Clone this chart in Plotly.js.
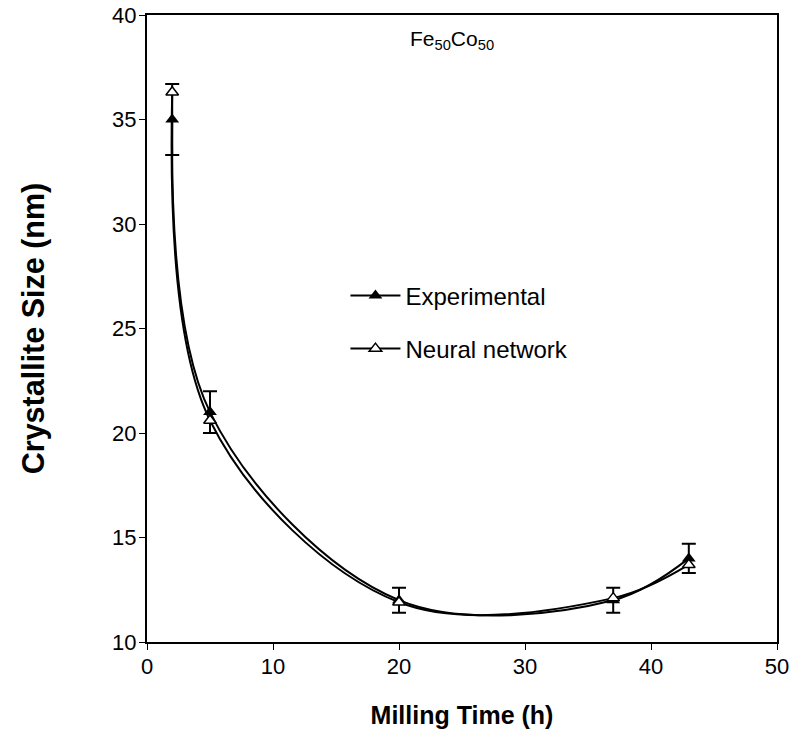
<!DOCTYPE html>
<html>
<head>
<meta charset="utf-8">
<script src="https://cdn.plot.ly/plotly-3.0.1.min.js"></script>
<style>body{margin:0;padding:0;background:#fff}#chart{width:797px;height:746px}</style>
</head>
<body>
<div id="chart"></div>
<script>
const millingTime = [2, 5, 20, 37, 43];
const experimental = [35.0, 21.0, 12.0, 12.0, 14.0];
const experimentalErr = [1.7, 1.0, 0.6, 0.6, 0.7];
const neuralNetwork = [36.3, 20.6, 11.9, 12.1, 13.7];

const font = 'Liberation Sans, Arial, sans-serif';

const traces = [
  {
    x: millingTime, y: experimental, name: 'Experimental', type: 'scatter', mode: 'lines+markers',
    legendgroup: 'a',
    line: {color: '#000', width: 2, shape: 'spline', smoothing: 1},
    marker: {symbol: 'triangle-up', size: 12, color: '#000'},
    error_y: {type: 'data', array: experimentalErr, visible: true, color: '#000', thickness: 2, width: 7}
  },
  {
    x: millingTime, y: neuralNetwork, name: 'Neural network', type: 'scatter', mode: 'lines+markers',
    legendgroup: 'b',
    line: {color: '#000', width: 2, shape: 'spline', smoothing: 1},
    marker: {symbol: 'triangle-up', size: 11, color: '#fff', line: {color: '#000', width: 1.5}}
  }
];

const layout = {
  width: 797, height: 746,
  margin: {l: 147, r: 20, t: 15, b: 104},
  paper_bgcolor: '#fff', plot_bgcolor: '#fff',
  font: {family: font, size: 22, color: '#000'},
  showlegend: true,
  legend: {x: 0.315, y: 0.588, xanchor: 'left', yanchor: 'top', bgcolor: 'rgba(0,0,0,0)',
           font: {family: font, size: 24}, tracegroupgap: 19, itemwidth: 50, traceorder: 'grouped'},
  xaxis: {
    range: [0, 50], tickvals: [0, 10, 20, 30, 40, 50], ticks: 'outside', ticklen: 6, tickwidth: 1, tickcolor: '#000',
    showgrid: false, zeroline: false, showline: true, linecolor: '#000', linewidth: 2, mirror: true,
    tickfont: {family: font, size: 22}, ticklabelstandoff: -2,
    title: {text: '<b>Milling Time (h)</b>', font: {family: font, size: 25}, standoff: 28}
  },
  yaxis: {
    range: [10, 40], tickvals: [10, 15, 20, 25, 30, 35, 40], ticks: 'outside', ticklen: 6, tickwidth: 1, tickcolor: '#000',
    showgrid: false, zeroline: false, showline: true, linecolor: '#000', linewidth: 2, mirror: true,
    tickfont: {family: font, size: 22}, ticklabelstandoff: -2,
    title: {text: '<b>Crystallite Size (nm)</b>', font: {family: font, size: 30.5}, standoff: 58}
  },
  annotations: [{
    xref: 'paper', yref: 'paper', x: 0.484, y: 0.96, xanchor: 'center', yanchor: 'middle', showarrow: false,
    text: 'Fe<sub>50</sub>Co<sub>50</sub>', font: {family: font, size: 21}
  }]
};

Plotly.newPlot('chart', traces, layout, {displayModeBar: false, staticPlot: true});
</script>
</body>
</html>
